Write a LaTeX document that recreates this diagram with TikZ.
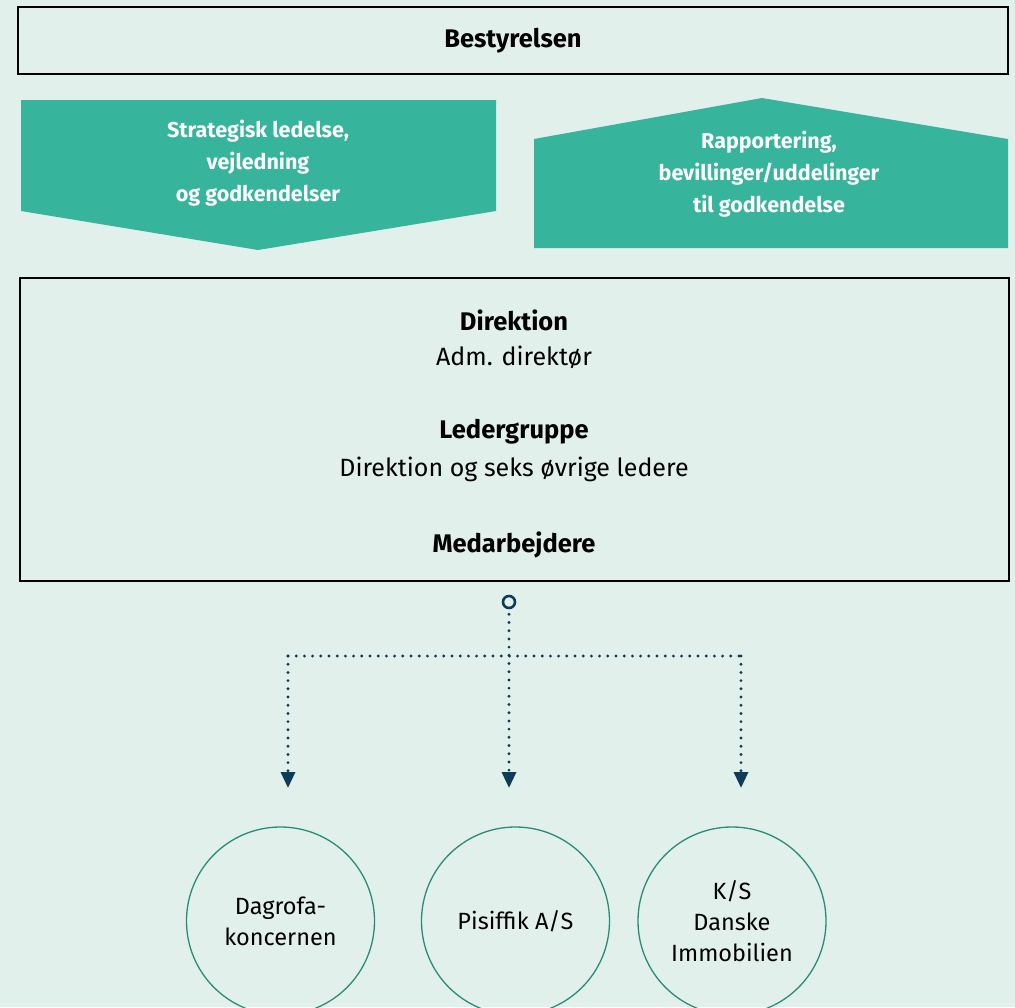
\documentclass[tikz,border=0pt]{standalone}
\usepackage{fontspec}
\setmainfont{Fira Sans}
\usetikzlibrary{arrows.meta}
\definecolor{bg}{HTML}{E2F0EC}
\definecolor{teal}{HTML}{36B49C}
\definecolor{navy}{HTML}{0E3B57}
\definecolor{ring}{HTML}{2A8C78}
\begin{document}
\begin{tikzpicture}[x=1pt,y=-1pt,
  framebox/.style={draw=black,line width=1.3pt,inner sep=0pt},
  whitetxt/.style={text=white,font=\bfseries\fontsize{21.5}{32}\selectfont,align=center},
  dotline/.style={navy,line width=3.2pt,line cap=round,dash pattern=on 0pt off 8.2pt},
  tip/.style={-{Triangle[width=14pt,length=16pt,sep=0pt]}},
  company/.style={circle,draw=ring,line width=1.3pt,minimum size=188pt,inner sep=0pt,align=center,font=\fontsize{23.5}{31}\selectfont}]
\useasboundingbox[fill=bg] (0,0) rectangle (1015,1007);
% Bestyrelsen
\node[framebox,minimum width=990pt,minimum height=67pt,font=\bfseries\fontsize{25.5}{28}\selectfont] (best) at (513,40.5) {Bestyrelsen};
% down arrow
\fill[teal] (21,100) -- (496,100) -- (496,211) -- (258,250) -- (21,211) -- cycle;
\node[whitetxt] (down) at (258,163) {Strategisk ledelse,\\vejledning\\og godkendelser};
% up arrow
\fill[teal] (534,139) -- (762,98) -- (1008,139) -- (1008,248) -- (534,248) -- cycle;
\node[whitetxt] (up) at (769,174) {Rapportering,\\bevillinger/uddelinger\\til godkendelse};
% Direktion box
\node[framebox,minimum width=989pt,minimum height=303pt] (dir) at (514.5,429.5) {};
\node[font=\bfseries\fontsize{25.5}{28}\selectfont] (d1) at (514,320) {Direktion};
\node[font=\fontsize{25}{28}\selectfont] (d2) at (514,357) {Adm. direktør};
\node[font=\bfseries\fontsize{25.5}{28}\selectfont] (d3) at (514,432) {Ledergruppe};
\node[font=\fontsize{25}{28}\selectfont] (d4) at (514,469) {Direktion og seks øvrige ledere};
\node[font=\bfseries\fontsize{25.5}{28}\selectfont] (d5) at (514,545) {Medarbejdere};
% connectors
\node[circle,draw=navy,line width=2.6pt,minimum size=12pt,inner sep=0pt] (m) at (509,602) {};
\coordinate (jl) at (288,656);
\coordinate (jr) at (741,656);
\coordinate (t1) at (288,788);
\coordinate (t2) at (509,788);
\coordinate (t3) at (741,788);
\draw[dotline] (jl) -- (jr);
\draw[dotline,tip] ([yshift=-5pt]m.south) -- (t2);
\draw[dotline,tip] (jl) -- (t1);
\draw[dotline,tip] (jr) -- (t3);
% companies
\node[company] (c1) at (280.5,921) {Dagrofa-\\koncernen};
\node[company] (c2) at (515.5,921) {Pisiffik A/S};
\node[company] (c3) at (732,921) {K/S\\Danske\\Immobilien};
\end{tikzpicture}
\end{document}
